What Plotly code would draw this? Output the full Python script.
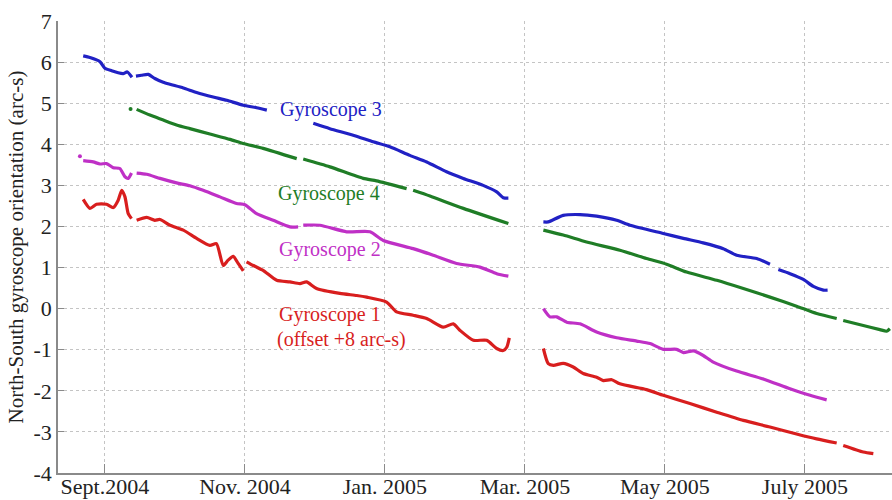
import pandas as pd
import plotly.graph_objects as go

# Time axis: days since 1 Sept 2004; None marks a gap in the record
START = pd.Timestamp("2004-09-01")

g3_days = [-9.3, -6.4, -2.1, 0, 2.9, 5.7, 7.8, 9.6, 11.6, None,
           13.3, 15.7, 18.6, 21.4, 25.0, 27.9, 33.6, 39.3, 46.4, 52.2, 59.3, 65.0, 69.4, None,
           89.3, 96.4, 106.4, 115.0, 122.1, 130.7, 137.9, 146.4, 153.6, 162.1, 167.9, 170.7, 172.9, None,
           187.9, 190.0, 196.4, 203.6, 210.7, 219.3, 225.0, 239.3, 247.9, 256.4, 265.0, 270.7, 279.3, 285.0, None,
           288.6, 293.6, 299.3, 303.6, 307.9, 309.7]
g3_vals = [6.15, 6.11, 6.01, 5.85, 5.79, 5.74, 5.72, 5.76, 5.63, None,
           5.66, 5.68, 5.70, 5.60, 5.51, 5.46, 5.37, 5.26, 5.15, 5.07, 4.95, 4.89, 4.83, None,
           4.51, 4.38, 4.22, 4.06, 3.94, 3.73, 3.57, 3.33, 3.17, 3.00, 2.84, 2.70, 2.69, None,
           2.11, 2.11, 2.27, 2.29, 2.25, 2.15, 2.03, 1.83, 1.71, 1.60, 1.46, 1.30, 1.22, 1.08, None,
           0.95, 0.85, 0.71, 0.54, 0.45, 0.45]

g4_days = [13.6, 19.3, 25.0, 30.7, 36.4, 45.0, 53.6, 59.3, 67.8, 82.2, None,
           85.0, 96.4, 110.7, 116.4, 129.3, None,
           132.1, 139.3, 153.6, 172.9, None,
           187.9, 196.4, 206.4, 220.7, 232.1, 240.7, 249.3, 262.2, 273.6, 285.0, 296.4, 305.0, 313.6, None,
           316.4, 325.0, 332.1, 335.0, 336.4]
g4_vals = [4.85, 4.71, 4.59, 4.47, 4.38, 4.25, 4.12, 4.02, 3.90, 3.65, None,
           3.64, 3.45, 3.17, 3.11, 2.92, None,
           2.88, 2.74, 2.44, 2.07, None,
           1.91, 1.79, 1.62, 1.42, 1.22, 1.08, 0.89, 0.69, 0.49, 0.28, 0.06, -0.12, -0.24, None,
           -0.29, -0.41, -0.51, -0.55, -0.49]
g4_dot_days = [11.0]
g4_dot_vals = [4.86]

g2_days = [-9.3, -5.0, -2.1, 0.7, 3.6, 6.4, 8.6, 10.0, 11.4, None,
           13.6, 17.9, 23.6, 30.7, 36.4, 42.1, 49.3, 56.4, 60.0, 65.0, 72.1, 79.3, 82.8, None,
           85.0, 92.1, 103.6, 113.6, 119.3, 132.1, 140.7, 150.7, 160.7, 167.9, 172.9, None,
           187.9, 190.7, 193.6, 197.9, 203.6, 210.7, 219.3, 227.9, 233.6, 239.3, 245.0, 247.9, 252.2,
           256.4, 260.7, 270.7, 282.1, 293.6, 302.2, 309.3]
g2_vals = [3.60, 3.57, 3.52, 3.53, 3.43, 3.41, 3.21, 3.17, 3.30, None,
           3.30, 3.27, 3.17, 3.06, 2.99, 2.88, 2.72, 2.56, 2.53, 2.31, 2.15, 1.99, 1.99, None,
           2.03, 2.03, 1.87, 1.87, 1.66, 1.46, 1.30, 1.10, 1.01, 0.85, 0.79, None,
           0.00, -0.20, -0.20, -0.33, -0.37, -0.57, -0.71, -0.79, -0.85, -0.99, -0.99, -1.07, -1.03,
           -1.14, -1.30, -1.52, -1.71, -1.95, -2.11, -2.22]
g2_dot_days = [-10.7]
g2_dot_vals = [3.71]

# Gyroscope 1 is shown with a +8 arc-s offset
g1_days = [-9.3, -6.4, -3.6, 0.7, 3.6, 5.7, 7.2, 8.6, 10.0, 11.4, None,
           13.6, 17.9, 21.4, 23.6, 27.9, 33.6, 39.3, 45.0, 47.8, 50.7, 52.8, 55.0, 57.1, 59.3, None,
           60.7, 63.6, 67.8, 73.6, 79.3, 83.6, 86.4, 90.7, 100.7, 107.9, 112.2, 120.7, 125.0, 132.1,
           137.9, 145.0, 149.3, 152.2, 157.9, 163.6, 167.9, 170.7, 172.2, 173.3, None,
           187.9, 190.0, 192.2, 196.4, 200.7, 205.0, 210.7, 213.6, 217.2, 220.7, 232.1, 239.3, 250.7,
           262.2, 273.6, 285.0, 296.4, 305.0, 313.6, None,
           316.4, 325.0, 329.3]
g1_vals = [2.66, 2.44, 2.54, 2.54, 2.46, 2.64, 2.88, 2.72, 2.31, 2.19, None,
           2.15, 2.22, 2.15, 2.17, 2.03, 1.91, 1.71, 1.54, 1.58, 1.05, 1.18, 1.27, 1.10, 0.92, None,
           1.14, 1.05, 0.93, 0.69, 0.65, 0.61, 0.65, 0.49, 0.37, 0.32, 0.28, 0.16, -0.08, -0.16,
           -0.24, -0.45, -0.37, -0.53, -0.77, -0.77, -0.97, -1.02, -0.94, -0.71, None,
           -0.97, -1.34, -1.38, -1.33, -1.42, -1.58, -1.67, -1.75, -1.73, -1.83, -1.97, -2.11, -2.31,
           -2.52, -2.72, -2.88, -3.05, -3.17, -3.27, None,
           -3.33, -3.49, -3.53]

tick_days = [0, 60, 120, 180, 240, 300]
tick_labels = ["Sept.2004", "Nov. 2004", "Jan. 2005", "Mar. 2005", "May 2005", "July 2005"]
y_ticks = [-4, -3, -2, -1, 0, 1, 2, 3, 4, 5, 6, 7]

BLUE = "#2121c4"
GREEN = "#1f7d26"
MAGENTA = "#bf30c6"
RED = "#d81e1e"
FONT = "Liberation Serif"


def to_dates(days):
    return [None if d is None else START + pd.Timedelta(days=d) for d in days]


fig = go.Figure()

for days, vals, color in [(g3_days, g3_vals, BLUE), (g4_days, g4_vals, GREEN),
                          (g2_days, g2_vals, MAGENTA), (g1_days, g1_vals, RED)]:
    fig.add_trace(go.Scatter(x=to_dates(days), y=vals, mode="lines",
                             line=dict(color=color, width=3.2, shape="spline", smoothing=0.6),
                             connectgaps=False, showlegend=False, hoverinfo="skip"))

for days, vals, color in [(g4_dot_days, g4_dot_vals, GREEN), (g2_dot_days, g2_dot_vals, MAGENTA)]:
    fig.add_trace(go.Scatter(x=to_dates(days), y=vals, mode="markers",
                             marker=dict(color=color, size=4), showlegend=False,
                             hoverinfo="skip"))

labels = [
    ("Gyroscope 3", 96.9, 4.84, BLUE, "center"),
    ("Gyroscope 4", 96.0, 2.81, GREEN, "center"),
    ("Gyroscope 2", 96.4, 1.43, MAGENTA, "center"),
    ("Gyroscope 1", 73.6, -0.14, RED, "left"),
    ("(offset +8 arc-s)", 72.8, -0.76, RED, "left"),
]
for text, d, v, color, anchor in labels:
    fig.add_annotation(x=START + pd.Timedelta(days=d), y=v, text=text, showarrow=False,
                       xanchor=anchor, yanchor="middle",
                       font=dict(family=FONT, size=20, color=color))

fig.update_layout(
    width=892, height=500,
    margin=dict(l=58, r=0, t=21, b=27),
    paper_bgcolor="white", plot_bgcolor="white",
    font=dict(family=FONT, size=22, color="#222222"),
)
fig.update_xaxes(
    range=[START + pd.Timedelta(days=-20.1), START + pd.Timedelta(days=337.3)],
    tickmode="array", tickvals=to_dates(tick_days), ticktext=tick_labels,
    showgrid=True, gridcolor="#c4c4c4", griddash="dot", gridwidth=1,
    showline=True, linecolor="#8a8a8a", linewidth=1.5,
    ticks="inside", ticklen=9, tickcolor="#8a8a8a", tickwidth=1,
    ticklabelstandoff=-7,
    zeroline=False, automargin=False,
)
fig.update_yaxes(
    range=[-4, 7], tickmode="array", tickvals=y_ticks,
    ticktext=[str(t) for t in y_ticks],
    showgrid=True, gridcolor="#c4c4c4", griddash="dot", gridwidth=1,
    showline=True, linecolor="#8a8a8a", linewidth=1.5,
    ticks="inside", ticklen=6, tickcolor="#8a8a8a", tickwidth=1,
    zeroline=False, automargin=False,
    title=dict(text="North-South gyroscope orientation (arc-s)",
               font=dict(family=FONT, size=21, color="#222222"), standoff=4),
)

fig.write_html("out.html")
